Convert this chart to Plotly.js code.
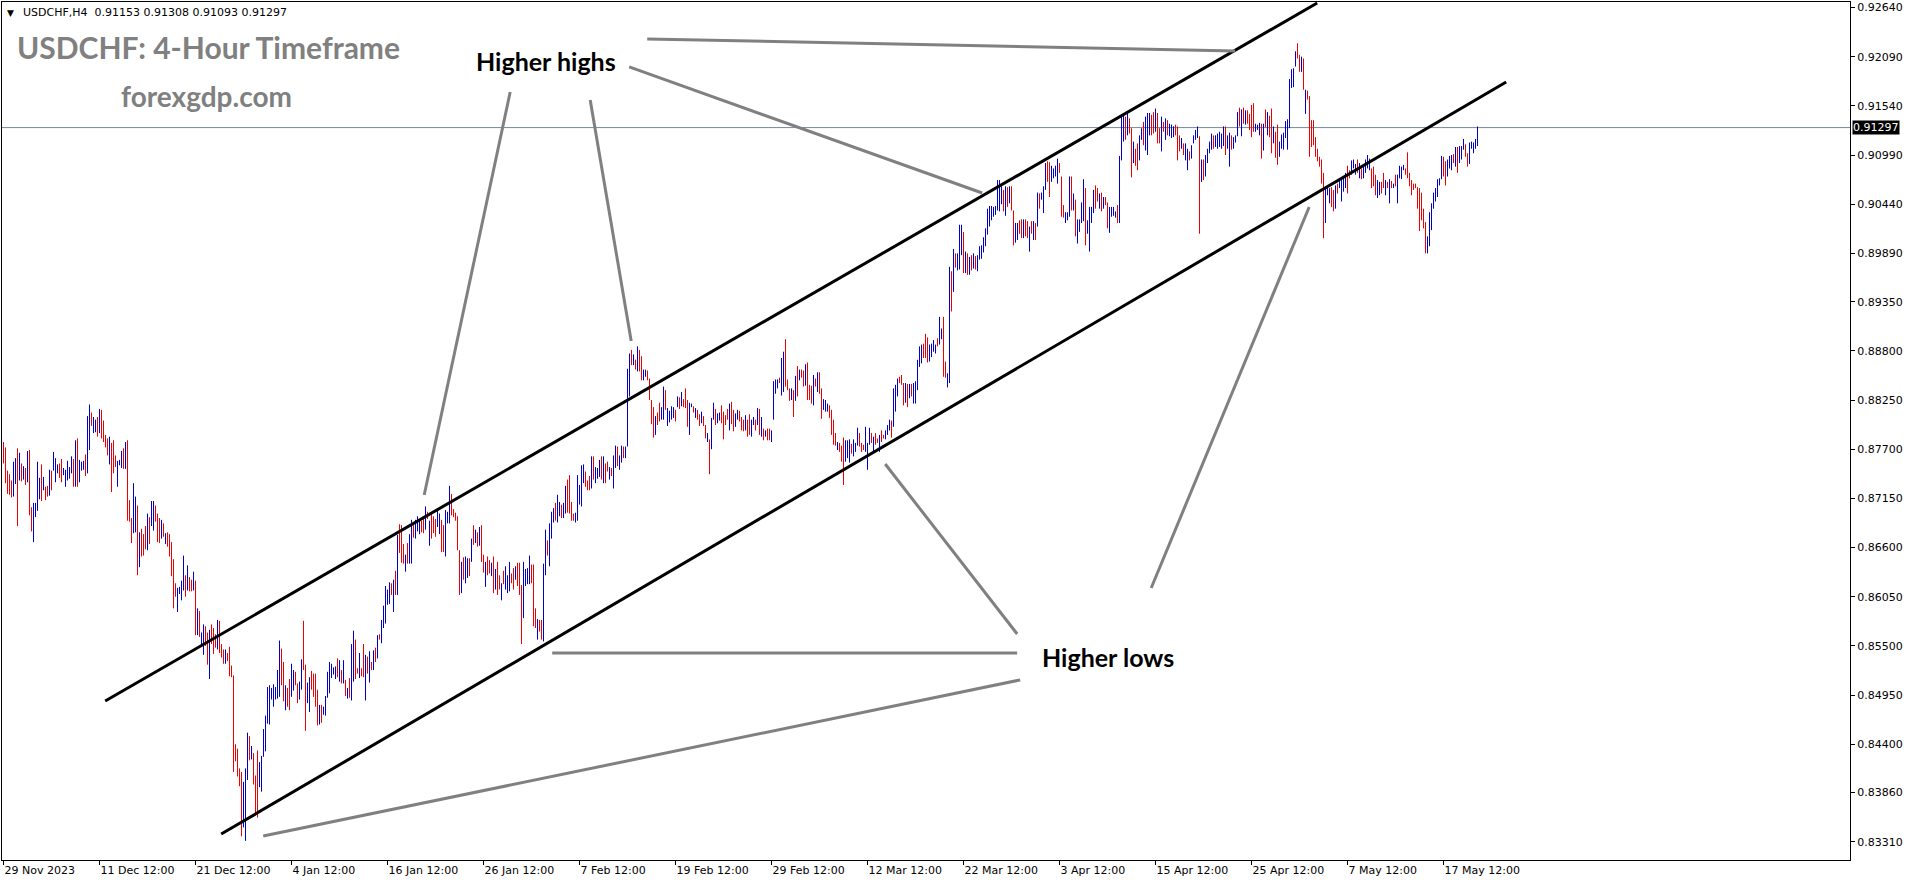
<!DOCTYPE html>
<html>
<head>
<meta charset="utf-8">
<script src="https://cdn.plot.ly/plotly-3.0.1.min.js"></script>
<style>
html,body{margin:0;padding:0;background:#fff;}
#chart{width:1914px;height:884px;}
</style>
</head>
<body>
<div id="chart"></div>
<script>
// USDCHF H4 bars, prices x 10000 (bar index 0 = 29 Nov 2023)
const opens = [
8777,8771,8745,8741,8734,8718,8732,8770,8736,8753,
8737,8748,8734,8768,8704,8667,8695,8702,8715,8752,
8725,8720,8728,8719,8745,8747,8734,8744,8753,8758,
8742,8729,8736,8738,8744,8758,8729,8781,8734,8747,
8748,8763,8744,8770,8810,8789,8790,8805,8789,8813,
8801,8785,8781,8754,8776,8779,8762,8729,8753,8750,
8770,8749,8779,8712,8692,8677,8678,8706,8639,8680,
8674,8683,8658,8693,8685,8680,8706,8697,8692,8671,
8686,8665,8676,8674,8665,8646,8619,8589,8609,8602,
8613,8628,8613,8626,8623,8613,8622,8563,8588,8553,
8541,8571,8564,8514,8573,8569,8562,8547,8577,8551,
8545,8531,8541,8548,8527,8516,8439,8434,8412,8408,
8348,8333,8401,8448,8424,8429,8404,8432,8393,8388,
8427,8433,8464,8463,8491,8483,8491,8492,8494,8546,
8531,8479,8502,8512,8494,8501,8520,8507,8491,8502,
8577,8528,8487,8477,8521,8518,8518,8500,8463,8483,
8474,8473,8493,8498,8515,8519,8514,8535,8511,8522,
8509,8511,8492,8513,8490,8511,8556,8524,8515,8524,
8551,8490,8537,8510,8531,8524,8547,8537,8562,8554,
8571,8576,8597,8598,8619,8589,8633,8608,8685,8684,
8663,8634,8664,8643,8643,8684,8671,8679,8676,8689,
8693,8681,8699,8663,8697,8694,8691,8684,8676,8690,
8684,8651,8688,8688,8719,8702,8698,8694,8656,8610,
8648,8621,8627,8647,8645,8684,8666,8676,8663,8684,
8651,8617,8649,8645,8629,8649,8614,8643,8628,8602,
8633,8614,8610,8612,8630,8636,8625,8642,8642,8617,
8582,8618,8620,8620,8640,8640,8591,8558,8578,8578,
8556,8630,8667,8640,8671,8689,8709,8689,8696,8707,
8694,8699,8735,8740,8710,8697,8689,8691,8709,8707,
8733,8744,8734,8739,8727,8761,8733,8738,8740,8761,
8733,8753,8755,8737,8748,8727,8750,8772,8748,8756,
8772,8761,8774,8830,8880,8865,8869,8858,8880,8873,
8848,8852,8857,8848,8824,8816,8787,8810,8821,8804,
8804,8835,8797,8801,8804,8806,8813,8818,8827,8819,
8825,8837,8824,8787,8818,8817,8806,8813,8808,8800,
8806,8796,8779,8780,8771,8804,8814,8800,8803,8818,
8811,8807,8814,8792,8822,8813,8796,8804,8812,8805,
8802,8792,8802,8808,8785,8798,8802,8798,8814,8785,
8792,8785,8792,8792,8779,8804,8833,8839,8849,8831,
8835,8892,8847,8837,8826,8835,8825,8862,8848,8858,
8857,8842,8866,8841,8840,8820,8848,8835,8855,8837,
8815,8813,8813,8818,8813,8802,8787,8770,8776,8773,
8782,8757,8761,8756,8775,8763,8768,8775,8787,8776,
8774,8768,8748,8776,8787,8768,8787,8781,8768,8790,
8785,8782,8787,8792,8801,8796,8813,8830,8850,8852,
8843,8823,8842,8828,8842,8822,8822,8837,8863,8867,
8887,8898,8894,8869,8874,8880,8878,8893,8888,8894,
8917,8867,8840,8845,8968,8947,8988,8971,8972,8988,
9012,8968,8988,8966,8986,8973,8985,8970,8983,8984,
8991,8998,9011,9020,9027,9031,9033,9038,9037,9045,
9059,9032,9062,9046,9063,9036,9002,9005,9025,9026,
9007,9026,9024,8992,9024,9005,9022,9020,9055,9050,
9035,9061,9091,9090,9070,9074,9076,9068,9089,9074,
9042,9024,9027,9031,9074,9038,9048,9001,9014,9024,
9026,9061,9012,8992,9024,9035,9064,9061,9040,9056,
9040,9051,9045,9013,9031,9032,9030,9042,9024,9094,
9115,9141,9122,9139,9128,9091,9105,9111,9094,9117,
9135,9105,9100,9122,9143,9146,9126,9145,9128,9104,
9130,9117,9137,9121,9119,9120,9132,9130,9120,9107,
9111,9094,9083,9102,9096,9113,9117,9119,9119,9070,
9093,9076,9091,9102,9106,9120,9109,9107,9109,9107,
9110,9130,9107,9087,9120,9107,9114,9121,9151,9121,
9151,9134,9148,9144,9154,9156,9126,9128,9122,9133,
9105,9149,9122,9142,9150,9113,9124,9132,9098,9107,
9106,9119,9106,9130,9175,9176,9199,9223,9210,9193,
9206,9146,9170,9164,9137,9137,9118,9105,9096,9093,
9078,9024,9055,9046,9062,9059,9040,9066,9063,9048,
9059,9063,9086,9081,9078,9085,9078,9093,9074,9083,
9074,9080,9085,9083,9083,9085,9076,9052,9055,9068,
9078,9055,9068,9046,9069,9063,9076,9046,9074,9073,
9083,9083,9101,9078,9070,9066,9066,9062,9061,9056,
9038,9023,8990,8998,9016,9040,9048,9053,9066,9073,
9096,9091,9076,9085,9083,9099,9087,9107,9091,9095,
9106,9110,9100,9090,9107,9102,9107,9115
];
const highs = [
8778,8772,8746,8742,8735,8756,8760,8771,8766,8754,
8751,8749,8768,8769,8705,8710,8710,8756,8738,8753,
8739,8728,8729,8747,8746,8767,8760,8753,8754,8759,
8749,8747,8757,8750,8762,8759,8780,8782,8758,8756,
8757,8764,8807,8820,8811,8806,8803,8806,8815,8814,
8802,8786,8782,8784,8777,8780,8763,8757,8758,8768,
8771,8778,8780,8713,8693,8732,8717,8707,8677,8681,
8675,8684,8698,8694,8712,8712,8707,8698,8693,8691,
8687,8676,8677,8675,8666,8647,8620,8615,8616,8623,
8651,8629,8640,8627,8624,8633,8623,8592,8589,8565,
8574,8572,8565,8568,8574,8570,8563,8579,8578,8552,
8546,8546,8542,8549,8528,8517,8440,8435,8413,8409,
8398,8413,8453,8449,8438,8430,8405,8433,8420,8427,
8457,8472,8504,8506,8503,8507,8504,8523,8556,8547,
8532,8506,8503,8513,8530,8523,8521,8508,8510,8535,
8578,8529,8509,8515,8522,8519,8519,8501,8484,8484,
8482,8494,8521,8532,8530,8526,8527,8536,8534,8523,
8534,8512,8503,8514,8552,8567,8557,8525,8542,8525,
8552,8540,8538,8544,8532,8545,8548,8562,8563,8579,
8595,8617,8613,8621,8620,8624,8634,8674,8686,8685,
8664,8652,8665,8675,8691,8685,8691,8695,8690,8690,
8694,8706,8700,8690,8698,8695,8692,8702,8698,8691,
8685,8702,8700,8729,8720,8703,8699,8695,8657,8644,
8649,8650,8648,8648,8670,8685,8680,8677,8683,8685,
8652,8644,8650,8646,8643,8650,8636,8644,8629,8620,
8634,8639,8629,8644,8631,8637,8639,8643,8643,8618,
8644,8636,8637,8651,8641,8641,8592,8580,8579,8579,
8642,8680,8668,8687,8700,8704,8710,8719,8711,8708,
8710,8729,8736,8741,8711,8698,8699,8741,8730,8752,
8753,8745,8735,8740,8762,8762,8750,8749,8758,8762,
8762,8754,8756,8750,8749,8763,8774,8773,8763,8774,
8773,8773,8860,8877,8881,8876,8870,8885,8881,8874,
8859,8859,8858,8849,8825,8817,8807,8811,8822,8817,
8840,8836,8816,8813,8818,8817,8814,8829,8828,8834,
8826,8838,8825,8822,8821,8818,8816,8814,8809,8812,
8807,8797,8788,8781,8805,8822,8815,8810,8811,8819,
8812,8808,8815,8821,8823,8814,8810,8814,8813,8806,
8803,8808,8803,8809,8803,8806,8803,8816,8815,8806,
8793,8791,8793,8793,8791,8846,8848,8848,8850,8872,
8879,8893,8848,8838,8838,8836,8852,8863,8859,8859,
8858,8865,8867,8842,8841,8853,8849,8856,8856,8838,
8826,8825,8821,8819,8814,8803,8788,8778,8777,8774,
8783,8780,8780,8781,8776,8781,8777,8794,8788,8777,
8775,8795,8777,8794,8788,8784,8788,8782,8786,8791,
8786,8791,8797,8803,8802,8838,8842,8849,8851,8853,
8844,8844,8843,8843,8843,8844,8846,8870,8885,8887,
8888,8899,8895,8887,8888,8892,8887,8894,8918,8905,
8918,8868,8855,8974,8969,8994,8989,8989,9021,9021,
9013,8991,8989,8985,8987,8989,8986,8987,8997,8998,
9007,9017,9039,9042,9042,9041,9042,9071,9071,9064,
9060,9064,9063,9064,9064,9037,9023,9023,9026,9027,
9027,9027,9025,9019,9025,9025,9023,9057,9056,9057,
9064,9090,9092,9091,9087,9084,9087,9095,9090,9075,
9043,9035,9035,9075,9075,9056,9049,9027,9027,9046,
9072,9062,9026,9041,9041,9060,9065,9062,9056,9057,
9052,9052,9046,9041,9041,9041,9036,9043,9098,9144,
9146,9142,9146,9140,9129,9114,9106,9112,9121,9129,
9136,9142,9146,9146,9144,9147,9151,9146,9129,9142,
9136,9140,9138,9134,9133,9131,9133,9131,9121,9118,
9112,9112,9106,9103,9110,9121,9127,9131,9120,9094,
9094,9099,9106,9114,9123,9121,9121,9123,9125,9123,
9131,9131,9121,9124,9121,9119,9121,9147,9152,9150,
9152,9149,9149,9145,9155,9157,9134,9133,9135,9134,
9134,9150,9147,9143,9151,9131,9125,9133,9114,9122,
9124,9137,9139,9184,9195,9196,9215,9224,9211,9209,
9207,9172,9171,9165,9138,9138,9119,9106,9097,9094,
9079,9064,9064,9062,9063,9060,9065,9067,9071,9072,
9075,9079,9087,9082,9093,9094,9089,9094,9090,9084,
9086,9094,9099,9095,9084,9086,9077,9071,9069,9069,
9079,9071,9069,9072,9070,9067,9077,9077,9087,9086,
9088,9084,9102,9079,9071,9067,9067,9063,9062,9057,
9039,9024,9008,9035,9045,9057,9062,9072,9073,9098,
9097,9092,9094,9098,9099,9100,9108,9108,9109,9109,
9117,9111,9101,9113,9114,9113,9117,9131
];
const lows = [
8754,8732,8720,8719,8716,8717,8731,8684,8735,8734,
8736,8730,8733,8696,8678,8666,8694,8701,8714,8712,
8724,8713,8717,8718,8724,8746,8733,8743,8738,8733,
8741,8728,8735,8737,8743,8728,8728,8728,8733,8746,
8747,8740,8743,8769,8796,8788,8789,8784,8788,8782,
8778,8772,8763,8753,8722,8743,8750,8728,8752,8749,
8748,8748,8690,8689,8665,8676,8677,8629,8638,8650,
8651,8658,8657,8664,8684,8679,8689,8666,8665,8670,
8672,8664,8661,8650,8628,8592,8605,8588,8608,8601,
8612,8605,8612,8611,8611,8612,8562,8562,8560,8552,
8540,8550,8529,8513,8552,8541,8548,8546,8542,8537,
8530,8530,8533,8516,8515,8409,8421,8404,8393,8337,
8347,8332,8400,8422,8423,8395,8360,8358,8392,8387,
8426,8432,8463,8462,8490,8482,8490,8491,8493,8506,
8488,8478,8482,8478,8493,8500,8506,8486,8490,8501,
8523,8455,8486,8476,8501,8493,8482,8461,8462,8464,
8473,8472,8492,8497,8514,8518,8513,8515,8510,8508,
8508,8494,8491,8492,8489,8510,8513,8519,8514,8516,
8515,8489,8519,8509,8523,8523,8532,8536,8557,8553,
8570,8575,8596,8597,8607,8588,8607,8607,8654,8643,
8642,8633,8642,8642,8642,8671,8670,8678,8675,8677,
8676,8680,8692,8662,8670,8676,8672,8683,8675,8655,
8655,8650,8687,8687,8696,8694,8690,8657,8607,8609,
8624,8620,8626,8628,8644,8663,8665,8661,8662,8644,
8632,8616,8629,8631,8628,8609,8613,8607,8613,8601,
8619,8613,8609,8611,8620,8613,8624,8617,8607,8552,
8581,8617,8619,8619,8620,8572,8570,8557,8566,8557,
8555,8629,8651,8639,8670,8688,8690,8688,8695,8693,
8693,8698,8699,8698,8690,8690,8688,8690,8708,8706,
8732,8728,8724,8724,8726,8736,8732,8737,8739,8736,
8732,8732,8745,8736,8740,8726,8749,8751,8747,8755,
8760,8760,8773,8829,8864,8864,8859,8857,8857,8847,
8847,8851,8847,8825,8798,8783,8786,8797,8801,8803,
8803,8814,8796,8800,8803,8805,8801,8817,8815,8818,
8817,8816,8795,8786,8817,8811,8805,8803,8796,8799,
8796,8782,8778,8742,8770,8803,8797,8799,8802,8799,
8781,8797,8803,8791,8798,8790,8795,8803,8801,8791,
8790,8791,8784,8786,8784,8797,8791,8797,8786,8784,
8780,8784,8780,8780,8778,8803,8832,8838,8844,8830,
8834,8840,8836,8824,8825,8806,8824,8829,8847,8850,
8840,8841,8825,8825,8821,8819,8840,8834,8832,8804,
8814,8812,8812,8805,8786,8775,8774,8769,8767,8756,
8730,8756,8760,8755,8765,8762,8767,8774,8773,8767,
8769,8767,8747,8775,8777,8767,8775,8777,8767,8778,
8782,8781,8786,8791,8783,8795,8812,8829,8844,8842,
8819,8822,8817,8827,8829,8821,8821,8836,8862,8866,
8872,8872,8867,8868,8873,8879,8877,8885,8887,8893,
8851,8850,8839,8844,8924,8946,8973,8970,8971,8987,
8967,8967,8965,8965,8970,8972,8971,8969,8982,8983,
8990,8997,9010,9019,9026,9030,9032,9037,9036,9044,
9036,9031,9041,9045,9037,8998,9001,9004,9011,9006,
9006,9008,9006,8991,9011,9004,9004,9019,9039,9049,
9034,9060,9069,9052,9069,9073,9075,9067,9079,9030,
9029,9023,9026,9030,9037,9037,9008,9000,9013,9023,
9025,8998,9011,8991,9023,9034,9039,9047,9039,9036,
9039,9043,9017,9012,9030,9031,9029,9023,9023,9093,
9114,9116,9121,9123,9074,9090,9087,9082,9093,9116,
9110,9104,9099,9121,9121,9123,9125,9112,9112,9103,
9125,9116,9121,9120,9118,9119,9121,9093,9103,9106,
9099,9093,9082,9093,9095,9112,9116,9118,9011,9069,
9071,9075,9090,9101,9105,9106,9108,9106,9108,9106,
9109,9099,9106,9086,9105,9106,9113,9120,9131,9120,
9134,9133,9134,9127,9119,9125,9125,9127,9121,9095,
9104,9130,9121,9119,9101,9112,9096,9088,9097,9106,
9105,9118,9105,9129,9174,9175,9198,9207,9192,9192,
9172,9145,9161,9097,9108,9110,9097,9092,9086,9067,
9006,9023,9054,9045,9041,9036,9039,9056,9062,9047,
9058,9062,9056,9073,9077,9084,9077,9079,9073,9072,
9073,9079,9084,9082,9062,9064,9054,9051,9054,9056,
9062,9054,9062,9045,9062,9062,9064,9045,9073,9072,
9082,9077,9073,9064,9054,9060,9062,9039,9014,9026,
9017,8989,8989,8997,9015,9039,9047,9052,9065,9072,
9075,9065,9075,9084,9082,9090,9086,9079,9090,9094,
9105,9097,9086,9089,9106,9101,9106,9109
];
const closes = [
8755,8733,8721,8720,8717,8755,8759,8685,8765,8735,
8750,8731,8767,8697,8679,8709,8709,8755,8737,8713,
8738,8720,8718,8746,8725,8766,8759,8752,8739,8734,
8748,8746,8756,8749,8761,8729,8779,8729,8757,8755,
8756,8741,8806,8819,8797,8805,8802,8785,8814,8783,
8779,8773,8764,8783,8723,8744,8751,8756,8757,8767,
8749,8777,8691,8690,8666,8731,8716,8630,8676,8651,
8652,8659,8697,8665,8711,8711,8690,8667,8666,8690,
8673,8675,8662,8651,8629,8593,8606,8614,8615,8622,
8650,8606,8639,8612,8612,8632,8563,8591,8561,8564,
8573,8551,8530,8567,8553,8542,8549,8578,8543,8538,
8531,8545,8534,8517,8516,8410,8422,8405,8394,8338,
8397,8412,8452,8423,8437,8396,8361,8359,8419,8426,
8456,8471,8503,8505,8502,8506,8503,8522,8555,8507,
8489,8505,8483,8479,8529,8522,8507,8487,8509,8534,
8524,8456,8508,8514,8502,8494,8483,8462,8483,8465,
8481,8493,8520,8531,8529,8525,8526,8516,8533,8509,
8533,8495,8502,8493,8551,8566,8514,8520,8541,8517,
8516,8539,8520,8543,8524,8544,8533,8561,8558,8578,
8594,8616,8612,8620,8608,8623,8608,8673,8655,8644,
8643,8651,8643,8674,8690,8672,8690,8694,8689,8678,
8677,8705,8693,8689,8671,8677,8673,8701,8697,8656,
8656,8701,8699,8728,8697,8695,8691,8658,8608,8643,
8625,8649,8647,8629,8669,8664,8679,8662,8682,8645,
8633,8643,8630,8632,8642,8610,8635,8608,8614,8619,
8620,8638,8628,8643,8621,8614,8638,8618,8608,8553,
8643,8635,8636,8650,8621,8573,8571,8579,8567,8558,
8641,8679,8652,8686,8699,8703,8691,8718,8710,8694,
8709,8728,8700,8699,8691,8691,8698,8740,8729,8751,
8752,8729,8725,8725,8761,8737,8749,8748,8757,8737,
8761,8733,8746,8749,8741,8762,8773,8752,8762,8773,
8761,8772,8859,8876,8865,8875,8860,8884,8858,8848,
8858,8858,8848,8826,8799,8784,8806,8798,8802,8816,
8839,8815,8815,8812,8817,8816,8802,8828,8816,8833,
8818,8817,8796,8821,8820,8812,8815,8804,8797,8811,
8797,8783,8787,8743,8804,8821,8798,8809,8810,8800,
8782,8798,8804,8820,8799,8791,8809,8813,8802,8792,
8791,8807,8785,8787,8802,8805,8792,8815,8787,8805,
8781,8790,8781,8781,8790,8845,8847,8847,8845,8871,
8878,8841,8837,8825,8837,8807,8851,8830,8858,8851,
8841,8864,8826,8826,8822,8852,8841,8855,8833,8805,
8825,8824,8820,8806,8787,8776,8775,8777,8768,8757,
8731,8779,8779,8780,8766,8780,8776,8793,8774,8768,
8770,8794,8776,8793,8778,8783,8776,8778,8785,8779,
8783,8790,8796,8802,8784,8837,8841,8848,8845,8843,
8820,8843,8818,8842,8830,8843,8845,8869,8884,8886,
8873,8873,8868,8886,8887,8891,8886,8886,8917,8904,
8852,8851,8854,8973,8925,8993,8974,8988,9020,9020,
8968,8990,8966,8984,8971,8988,8972,8986,8996,8997,
9006,9016,9038,9041,9041,9040,9041,9070,9070,9063,
9037,9063,9042,9063,9038,8999,9022,9022,9012,9007,
9026,9009,9007,9018,9012,9024,9005,9056,9040,9056,
9063,9089,9070,9053,9086,9083,9086,9094,9080,9031,
9030,9034,9034,9074,9038,9055,9009,9026,9026,9045,
9071,8999,9025,9040,9040,9059,9040,9048,9055,9037,
9051,9044,9018,9040,9040,9040,9035,9024,9097,9143,
9145,9117,9145,9124,9075,9113,9088,9083,9120,9128,
9111,9141,9145,9145,9122,9124,9150,9113,9113,9141,
9130,9139,9122,9133,9132,9130,9122,9094,9104,9117,
9100,9111,9105,9094,9109,9120,9126,9130,9012,9093,
9072,9098,9105,9113,9122,9107,9120,9122,9124,9122,
9130,9100,9120,9123,9106,9118,9120,9146,9132,9149,
9135,9148,9135,9128,9120,9126,9133,9132,9134,9096,
9133,9131,9146,9120,9102,9130,9097,9089,9113,9121,
9123,9136,9138,9183,9194,9195,9214,9208,9193,9208,
9173,9171,9162,9098,9109,9111,9098,9093,9087,9068,
9007,9063,9063,9061,9042,9037,9064,9057,9070,9071,
9074,9078,9057,9074,9092,9093,9088,9080,9089,9073,
9085,9093,9098,9094,9063,9065,9055,9070,9068,9057,
9063,9070,9063,9071,9063,9066,9065,9076,9086,9085,
9087,9078,9074,9065,9055,9061,9063,9040,9015,9027,
9018,8990,9007,9034,9044,9056,9061,9071,9072,9097,
9076,9066,9093,9097,9098,9091,9107,9080,9108,9108,
9116,9098,9087,9112,9113,9112,9116,9130
];

const dateTickBars = [0,48,96,144,192,240,288,336,384,432,480,528,576,624,672,720];
const dateTickLabels = ["29 Nov 2023","11 Dec 12:00","21 Dec 12:00","4 Jan 12:00","16 Jan 12:00",
  "26 Jan 12:00","7 Feb 12:00","19 Feb 12:00","29 Feb 12:00","12 Mar 12:00","22 Mar 12:00",
  "3 Apr 12:00","15 Apr 12:00","25 Apr 12:00","7 May 12:00","17 May 12:00"];
const priceTicks = [0.92640,0.92090,0.91540,0.90990,0.90440,0.89890,0.89350,0.88800,0.88250,
  0.87700,0.87150,0.86600,0.86050,0.85500,0.84950,0.84400,0.83860,0.83310];
const lastPrice = 0.91297;
const headerText = "USDCHF,H4\u00A0\u00A00.91153 0.91308 0.91093 0.91297";

// drawn trend lines: [bar0, price0, bar1, price1]
const channelLines = [
  [50.85, 0.84884, 656.85, 0.92690],
  [108.85, 0.83396, 751.35, 0.91807]
];
const pointerLines = [
  [321.85, 0.92288, 615.85, 0.92153],
  [312.85, 0.91975, 489.35, 0.90565],
  [253.35, 0.91695, 210.35, 0.87188],
  [293.35, 0.91606, 313.85, 0.88910],
  [274.35, 0.85421, 506.85, 0.85421],
  [129.85, 0.83374, 508.35, 0.85119],
  [440.85, 0.87534, 506.85, 0.85633],
  [573.85, 0.86148, 652.85, 0.90409]
];

const SCALE = 10000;
const n = Math.min(opens.length, highs.length, lows.length, closes.length);
const xs = [], o = [], h = [], l = [], c = [];
for (let i = 0; i < n; i++) {
  xs.push(i); o.push(opens[i]/SCALE); h.push(highs[i]/SCALE); l.push(lows[i]/SCALE); c.push(closes[i]/SCALE);
}

const trace = {
  type: 'ohlc', x: xs, open: o, high: h, low: l, close: c,
  increasing: {line: {color: '#0000CC', width: 1}},
  decreasing: {line: {color: '#EE0000', width: 1}},
  tickwidth: 0, hoverinfo: 'skip', showlegend: false
};

const shapes = [];
shapes.push({type:'line', xref:'paper', yref:'y', x0:0, x1:1, y0:lastPrice, y1:lastPrice,
  line:{color:'#778899', width:1}, layer:'below'});
channelLines.forEach(s => shapes.push({type:'line', xref:'x', yref:'y', x0:s[0], y0:s[1], x1:s[2], y1:s[3],
  line:{color:'#000000', width:3}}));
pointerLines.forEach(s => shapes.push({type:'line', xref:'x', yref:'y', x0:s[0], y0:s[1], x1:s[2], y1:s[3],
  line:{color:'#808080', width:3}}));

const W = 1848, H = 858, L = 2, T = 2;
const px = X => (X - L) / W;
const py = Y => 1 - (Y - T) / H;

const annotations = [
  {xref:'paper', yref:'paper', x:px(5), y:py(13), xanchor:'left', yanchor:'middle', showarrow:false,
   text:'\u25BC', font:{family:'DejaVu Sans', size:9, color:'#000'}},
  {xref:'paper', yref:'paper', x:px(21), y:py(13), xanchor:'left', yanchor:'middle', showarrow:false,
   text:headerText, font:{family:'DejaVu Sans', size:11, color:'#000'}},
  {xref:'paper', yref:'paper', x:px(208), y:py(47), xanchor:'center', yanchor:'middle', showarrow:false,
   text:'USDCHF: 4-Hour Timeframe', font:{family:'Lato', size:30, color:'#808080', weight:700}},
  {xref:'paper', yref:'paper', x:px(206), y:py(96), xanchor:'center', yanchor:'middle', showarrow:false,
   text:'forexgdp.com', font:{family:'Lato', size:28, color:'#808080', weight:700}},
  {xref:'paper', yref:'paper', x:px(546), y:py(61), xanchor:'center', yanchor:'middle', showarrow:false,
   text:'Higher highs', font:{family:'Lato', size:25, color:'#000000', weight:700}},
  {xref:'paper', yref:'paper', x:px(1108), y:py(657), xanchor:'center', yanchor:'middle', showarrow:false,
   text:'Higher lows', font:{family:'Lato', size:25, color:'#000000', weight:700}},
  {xref:'paper', yref:'y', x:1, y:lastPrice, xanchor:'left', yanchor:'middle', xshift:2, showarrow:false,
   text:lastPrice.toFixed(5), bgcolor:'#000000', borderpad:0,
   font:{family:'DejaVu Sans', size:11, color:'#ffffff'}}
];

const tickFont = {family:'DejaVu Sans', size:11, color:'#000'};
const layout = {
  width: 1914, height: 884,
  margin: {l: L, r: 64, t: T, b: 24, pad: 0},
  paper_bgcolor: '#ffffff', plot_bgcolor: '#ffffff',
  showlegend: false,
  font: tickFont,
  xaxis: {
    range: [-0.75, -0.75 + W/2], tickmode: 'array', tickvals: dateTickBars, ticktext: dateTickLabels,
    ticks: 'outside', ticklen: 4, tickcolor: '#000', tickwidth: 1,
    ticklabelposition: 'outside right', tickfont: tickFont,
    showgrid: false, zeroline: false, showline: true, linecolor: '#000', linewidth: 1, mirror: true,
    rangeslider: {visible: false}, fixedrange: true
  },
  yaxis: {
    side: 'right', range: [0.831053, 0.927015], tickmode: 'array', tickvals: priceTicks,
    ticktext: priceTicks.map(v => v.toFixed(5)),
    ticks: 'outside', ticklen: 4, tickcolor: '#000', tickwidth: 1, tickfont: tickFont,
    showgrid: false, zeroline: false, showline: true, linecolor: '#000', linewidth: 1, mirror: true,
    fixedrange: true
  },
  shapes: shapes,
  annotations: annotations
};

Plotly.newPlot('chart', [trace], layout, {displayModeBar: false, staticPlot: true});
</script>
</body>
</html>
